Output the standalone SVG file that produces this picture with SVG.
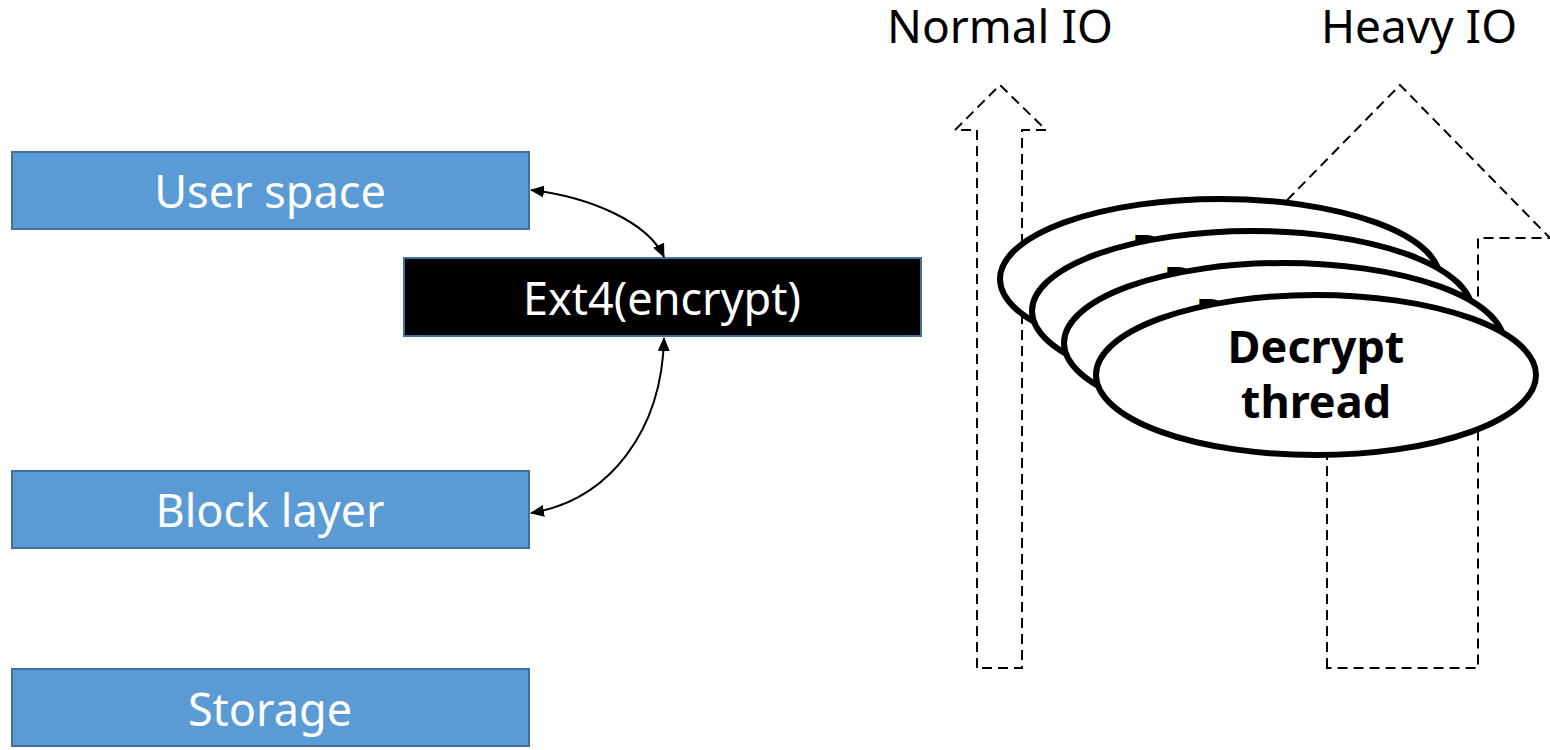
<svg xmlns="http://www.w3.org/2000/svg" width="1550" height="750" viewBox="0 0 1550 750">
  <style>
    .layer { fill: #5B9BD5; stroke: #41719C; stroke-width: 2; }
    .ext4 { fill: #000000; stroke: #41719C; stroke-width: 2; }
    .label { font-family: "Noto Sans", "Open Sans", sans-serif; font-size: 45px; fill: #ffffff; text-anchor: middle; }
    .title { font-family: "Noto Sans", "Open Sans", sans-serif; font-size: 46px; fill: #000000; text-anchor: middle; }
    .io { fill: #ffffff; stroke: #000000; stroke-width: 2; stroke-dasharray: 10 6; }
    .thread { fill: #ffffff; stroke: #000000; stroke-width: 6; }
    .thread-text { font-family: "Noto Sans", "Open Sans", sans-serif; font-size: 45px; font-weight: bold; fill: #000000; text-anchor: middle; }
    .link { fill: none; stroke: #000000; stroke-width: 2; marker-start: url(#tip); marker-end: url(#tip); }
  </style>
  <defs>
    <marker id="tip" viewBox="0 0 14 12" refX="13" refY="6" markerWidth="14" markerHeight="12" markerUnits="userSpaceOnUse" orient="auto-start-reverse">
      <path d="M0,0 L14,6 L0,12 z" fill="#000000"/>
    </marker>
  </defs>
  <rect width="1550" height="750" fill="#ffffff"/>

  <!-- I/O path titles -->
  <text class="title" x="1000" y="43">Normal IO</text>
  <text class="title" x="1419" y="43">Heavy IO</text>

  <!-- dashed block arrows showing the I/O paths -->
  <g id="normal-io">
    <polygon class="io" points="977,668 977,130 955,130 1000,85 1046,130 1022,130 1022,668"/>
  </g>
  <g id="heavy-io">
    <polygon class="io" points="1327,668 1327,238 1250,238 1400,85 1550,238 1478,238 1478,668"/>
  </g>

  <!-- stack of layers -->
  <g id="user-space">
    <rect class="layer" x="12" y="152" width="517" height="77"/>
    <text class="label" x="270" y="208">User space</text>
  </g>
  <g id="ext4">
    <rect class="ext4" x="404" y="258" width="517" height="78"/>
    <text class="label" x="662" y="315">Ext4(encrypt)</text>
  </g>
  <g id="block-layer">
    <rect class="layer" x="12" y="471" width="517" height="77"/>
    <text class="label" x="270" y="527">Block layer</text>
  </g>
  <g id="storage">
    <rect class="layer" x="12" y="669" width="517" height="77"/>
    <text class="label" x="270" y="726">Storage</text>
  </g>

  <!-- decrypt thread pool, back to front -->
  <g id="thread-4">
    <ellipse class="thread" cx="1220" cy="279" rx="220" ry="80"/>
    <text class="thread-text" x="1220" y="267">Decrypt</text>
  </g>
  <g id="thread-3">
    <ellipse class="thread" cx="1252" cy="311" rx="220" ry="80"/>
    <text class="thread-text" x="1252" y="299">Decrypt</text>
  </g>
  <g id="thread-2">
    <ellipse class="thread" cx="1284" cy="343" rx="220" ry="80"/>
    <text class="thread-text" x="1284" y="331">Decrypt</text>
  </g>
  <g id="thread-1">
    <ellipse class="thread" cx="1316" cy="375" rx="220" ry="80"/>
    <text class="thread-text" x="1316" y="363">Decrypt</text>
    <text class="thread-text" x="1316" y="418">thread</text>
  </g>

  <!-- connectors between layers -->
  <g id="connectors">
    <path class="link" d="M531,190 C590,197 648,222 664,257"/>
    <path class="link" d="M664,338 C662,430 610,500 531,513"/>
  </g>
</svg>
